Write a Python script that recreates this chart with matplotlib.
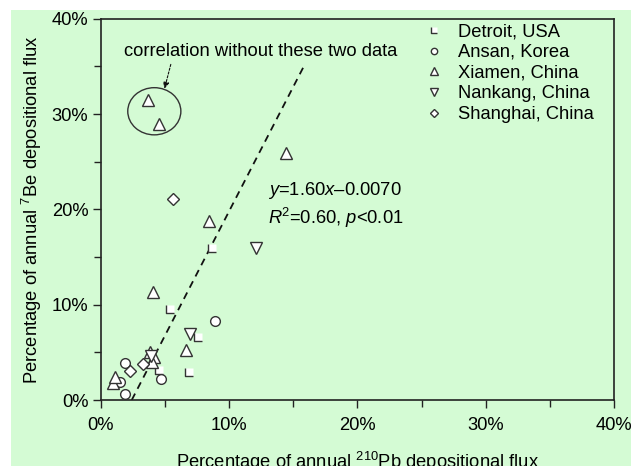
"""
7Be vs 210Pb annual depositional flux percentages
"""
import matplotlib.pyplot as plt
from matplotlib.patches import Ellipse, Rectangle
from matplotlib.ticker import MultipleLocator, FuncFormatter

plt.rcParams['font.family'] = ['Liberation Sans', 'DejaVu Sans']
plt.rcParams['mathtext.fontset'] = 'custom'
plt.rcParams['mathtext.rm'] = 'Liberation Sans'
plt.rcParams['mathtext.it'] = 'Liberation Sans:italic'

# DATA (% of annual flux)
detroit_x = [5.4, 7.6, 6.9, 4.5, 8.65]
detroit_y = [9.6, 6.6, 2.9, 3.2, 16.0]

ansan_x = [8.9, 4.7, 1.9, 1.9, 1.5]
ansan_y = [8.3, 2.2, 0.6, 3.9, 1.9]

xiamen_x = [0.9, 1.1, 3.85, 4.15, 4.0, 6.6, 4.05, 8.4, 14.4, 3.7, 4.55]
xiamen_y = [1.8, 2.45, 5.0, 4.5, 4.0, 5.2, 11.3, 18.8, 25.9, 31.5, 29.0]

nankang_x = [6.95, 12.1, 3.9]
nankang_y = [6.9, 16.0, 4.6]

shanghai_x = [2.3, 3.25, 5.6]
shanghai_y = [3.05, 3.75, 21.1]

# regression line as drawn
fit_x = [2.4, 15.85]
fit_y = [0.0, 35.1]

GREEN = '#d4fbd4'
EDGE = '#333333'
FS = 13.2

fig = plt.figure(figsize=(6.31, 4.66), dpi=100)
fig.patch.set_facecolor('white')
fig.patches.append(Rectangle((11 / 631, 0), 1, (466 - 10) / 466, transform=fig.transFigure,
                             facecolor=GREEN, edgecolor='none', zorder=-10))
ax = fig.add_axes([0.160, 0.1416, 0.813, 0.818])
ax.set_facecolor(GREEN)

mk = dict(linestyle='none', markeredgecolor=EDGE, markerfacecolor='white', markeredgewidth=1.0)

ax.plot(fit_x, fit_y, color='#111111', lw=1.3, linestyle=(0, (4, 3)), zorder=2)

sq, = ax.plot(detroit_x, detroit_y, marker='s', markersize=6, linestyle='none',
              markerfacecolor='white', markeredgecolor='none', zorder=3)
sq_l, = ax.plot(detroit_x, detroit_y, marker=[(-1, 1), (-1, -1), (1, -1)], markersize=6,
                linestyle='none', fillstyle='none', markeredgecolor=EDGE,
                markeredgewidth=1.0, zorder=3)
ci, = ax.plot(ansan_x, ansan_y, marker='o', markersize=7, **mk, zorder=3)
tu, = ax.plot(xiamen_x, xiamen_y, marker='^', markersize=8, **mk, zorder=3)
td, = ax.plot(nankang_x, nankang_y, marker='v', markersize=8, **mk, zorder=3)
di, = ax.plot(shanghai_x, shanghai_y, marker='D', markersize=6, **mk, zorder=3)

ax.legend([(sq, sq_l), ci, tu, td, di],
          ['Detroit, USA', 'Ansan, Korea', 'Xiamen, China', 'Nankang, China', 'Shanghai, China'],
          loc='upper left', bbox_to_anchor=(0.607, 1.022), frameon=False, fontsize=FS,
          markerscale=0.65, handlelength=1.0, handletextpad=0.8, labelspacing=0.2,
          borderpad=0.2)

# circled outliers + note
ax.add_patch(Ellipse((4.16, 30.3), 4.14, 4.95, facecolor='none', edgecolor=EDGE, lw=1.0, zorder=4))
ax.text(1.8, 36.6, 'correlation without these two data', fontsize=FS, va='center', ha='left')
ax.annotate('', xy=(4.9, 32.4), xytext=(5.5, 35.5),
            arrowprops=dict(arrowstyle='-|>', color='#111111', lw=0.8,
                            linestyle=(0, (2, 1.5)), mutation_scale=9))

ax.text(13.0, 22.0, r'$y$=1.60$x$–0.0070', fontsize=FS, va='center', ha='left')
ax.text(13.0, 19.1, r'$R$$^2$=0.60, $p$<0.01', fontsize=FS, va='center', ha='left')

ax.set_xlim(0, 40)
ax.set_ylim(0, 40)
pct = FuncFormatter(lambda v, p: f'{v:.0f}%')
for axis in (ax.xaxis, ax.yaxis):
    axis.set_major_locator(MultipleLocator(10))
    axis.set_minor_locator(MultipleLocator(5))
    axis.set_major_formatter(pct)
ax.tick_params(which='both', direction='out', width=1.0, color='#222222', labelsize=FS,
               top=False, right=False)
ax.tick_params(which='major', length=6)
ax.tick_params(axis='x', which='major', pad=6)
ax.tick_params(axis='y', which='major', pad=3)
ax.tick_params(which='minor', length=5)
for s in ax.spines.values():
    s.set_linewidth(1.2)
    s.set_color('#222222')

ax.set_xlabel(r'Percentage of annual $^{210}$Pb depositional flux', fontsize=FS, labelpad=12)
ax.set_ylabel(r'Percentage of annual $^{7}$Be depositional flux', fontsize=FS, labelpad=6)

fig.savefig('out.png', dpi=100, facecolor=fig.get_facecolor())
